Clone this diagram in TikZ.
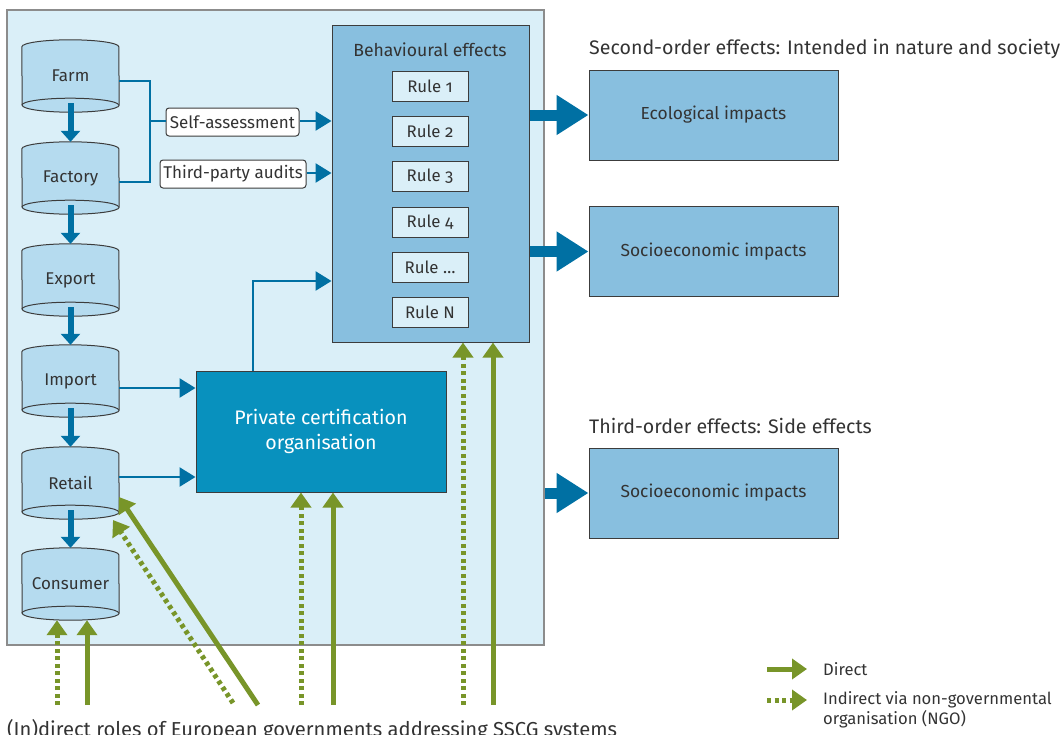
\documentclass[tikz,border=0pt]{standalone}
\usepackage{fontspec}
\setmainfont{Fira Sans}[Numbers=OldStyle]
\usetikzlibrary{arrows.meta}

\definecolor{panel}{HTML}{DAEFF8}
\definecolor{cylfill}{HTML}{B5DBEF}
\definecolor{midblue}{HTML}{88BFDF}
\definecolor{certblue}{HTML}{0891BE}
\definecolor{arrowblue}{HTML}{0070A3}
\definecolor{olive}{HTML}{789529}
\definecolor{ink}{HTML}{333333}
\definecolor{edge}{HTML}{3C3C3C}

\newcommand{\fs}[1]{\fontsize{#1}{#1}\selectfont}

% vertical supply-chain cylinder: open top arc, full bottom ellipse
\newcommand{\drawcyl}[1]{%
  \path[fill=cylfill,draw=edge,line width=1pt]
    ([yshift=-7pt]#1.north west) arc[start angle=180,end angle=0,x radius=48.5pt,y radius=7pt]
    -- ([yshift=7pt]#1.south east) arc[start angle=0,end angle=-180,x radius=48.5pt,y radius=7pt]
    -- cycle;
  \draw[edge,line width=1pt] ([yshift=7pt]#1.south west)
    arc[start angle=180,end angle=0,x radius=48.5pt,y radius=7pt];}

\tikzset{
  cyl/.style={minimum width=97pt,minimum height=72pt,inner sep=0pt,text=ink,font=\fs{17}},
  rulebox/.style={draw=edge,fill=panel,line width=1pt,minimum width=76pt,minimum height=30pt,inner sep=0pt,text=ink,font=\fs{16.8}},
  tagbox/.style={draw=edge,fill=white,rounded corners=3pt,line width=1pt,minimum height=28pt,inner sep=3pt,text=ink,font=\fs{17}},
  impact/.style={draw=edge,fill=midblue,line width=1pt,minimum width=249pt,minimum height=90pt,inner sep=0pt,text=ink,font=\fs{17.4}},
  downarrow/.style={arrowblue,line width=6pt,-{Triangle[length=11pt,width=19pt]}},
  flow/.style={arrowblue,line width=2.6pt,-{Triangle[length=16pt,width=19pt]}},
  flowline/.style={arrowblue,line width=2.6pt},
  bigarrow/.style={arrowblue,line width=11pt,-{Triangle[length=32pt,width=38pt]}},
  gov/.style={olive,line width=5pt,-{Triangle[length=15pt,width=20pt]}},
  govngo/.style={gov,dash pattern=on 4pt off 3.5pt},
}

\begin{document}
\begin{tikzpicture}[x=1pt,y=-1pt]
\useasboundingbox (0,0) rectangle (1062,734);

% system panel
\node[draw=gray!90,fill=panel,line width=1.5pt,minimum width=537pt,minimum height=635pt,inner sep=0pt] (panel) at (275.5,327.5) {};

% supply chain
\node[cyl] (farm) at (70.5,76) {};
\node[cyl] (factory) at (70.5,178) {};
\node[cyl] (export) at (70.5,280) {};
\node[cyl] (import) at (70.5,381) {};
\node[cyl] (retail) at (70.5,483) {};
\node[cyl] (consumer) at (70.5,584) {};
\foreach \n in {farm,factory,export,import,retail,consumer} {\drawcyl{\n}}
\node[cyl] at (farm) {Farm};
\node[cyl] at (factory) {Factory};
\node[cyl] at (export) {Export};
\node[cyl] at (import) {Import};
\node[cyl] at (retail) {Retail};
\node[cyl] at (consumer) {Consumer};

\draw[downarrow] ([yshift=9pt]farm.south) -- (factory.north);
\draw[downarrow] ([yshift=9pt]factory.south) -- (export.north);
\draw[downarrow] ([yshift=9pt]export.south) -- (import.north);
\draw[downarrow] ([yshift=9pt]import.south) -- (retail.north);
\draw[downarrow] ([yshift=9pt]retail.south) -- (consumer.north);

% behavioural effects
\node[draw=edge,fill=midblue,line width=1pt,minimum width=197pt,minimum height=317pt,inner sep=0pt] (beh) at (430.5,183.5) {};
\node[text=ink,font=\fs{17.6}] (behtitle) at (430,50) {Behavioural effects};
\node[rulebox] (r1) at (430,86) {Rule 1};
\node[rulebox] (r2) at (430,131) {Rule 2};
\node[rulebox] (r3) at (430,176) {Rule 3};
\node[rulebox] (r4) at (430,222) {Rule 4};
\node[rulebox] (r5) at (430,267) {Rule \dots};
\node[rulebox] (r6) at (430,312) {Rule N};

% monitoring
\node[tagbox,minimum width=133pt] (self) at (232.5,122) {Self-assessment};
\node[tagbox,minimum width=146pt] (third) at (233,174) {Third-party audits};
\coordinate (join) at (150,121);
\draw[flowline] ([yshift=-5pt]farm.east) -| (join) |- ([yshift=-4pt]factory.east);
\draw[flowline] (join) -- (self.west |- join);
\draw[flow] (self.east |- join) -- (beh.west |- join);
\draw[flow] (third.east |- 0,173) -- (beh.west |- 0,173);

% private certification
\node[draw=edge,fill=certblue,line width=1pt,minimum width=250pt,minimum height=121pt,inner sep=0pt,text=white,align=center,font=\fontsize{19.6}{25}\selectfont] (cert) at (321,431.5) {Private certification\\organisation};
\draw[flow] (import.east |- 0,388) -- (cert.west |- 0,388);
\draw[flow] (retail.east |- 0,477) -- (cert.west |- 0,477);
\draw[flow] (cert.north -| 253,0) |- (beh.west |- 0,281);

% effects
\node[anchor=west,inner sep=0pt,text=ink,font=\fs{19.6}] (second) at (589,49) {Second-order effects: Intended in nature and society};
\node[impact] (eco) at (713.5,115) {Ecological impacts};
\node[impact] (socio) at (713.5,251.5) {Socioeconomic impacts};
\node[anchor=west,inner sep=0pt,text=ink,font=\fs{19.6}] (thirdorder) at (589,426) {Third-order effects: Side effects};
\node[impact] (side) at (713.5,493) {Socioeconomic impacts};
\draw[bigarrow] (beh.east |- eco) -- (eco.west);
\draw[bigarrow] (beh.east |- socio) -- (socio.west);
\draw[bigarrow] (panel.east |- side) -- (side.west);

% government roles
\coordinate (g1) at (57,705);
\coordinate (g2) at (87,705);
\coordinate (g3) at (233,703);
\coordinate (g4) at (258,705);
\coordinate (g5) at (301,705);
\coordinate (g6) at (333,705);
\coordinate (g7) at (463,705);
\coordinate (g8) at (493,705);
\coordinate (rtip1) at (113,520);
\coordinate (rtip2) at (119,497);
\draw[govngo] (g1) -- (g1 |- consumer.south);
\draw[gov] (g2) -- (g2 |- consumer.south);
\draw[govngo] (g3) -- (rtip1);
\draw[gov] (g4) -- (rtip2);
\draw[govngo] (g5) -- (g5 |- cert.south);
\draw[gov] (g6) -- (g6 |- cert.south);
\draw[govngo] (g7) -- (g7 |- beh.south);
\draw[gov] (g8) -- (g8 |- beh.south);
\node[anchor=base west,inner sep=0pt,text=ink,font=\fs{20.2}] (caption) at (7,736) {(In)direct roles of European governments addressing SSCG systems};

% legend
\coordinate (la1) at (767,669);
\coordinate (lb1) at (807,669);
\coordinate (la2) at (767,700);
\coordinate (lb2) at (807,700);
\draw[gov] (la1) -- (lb1);
\draw[govngo] (la2) -- (lb2);
\node[anchor=west,inner sep=0pt,text=ink,font=\fs{16.6}] (ldirect) at (823,669) {Direct};
\node[anchor=west,inner sep=0pt,text=ink,align=left,font=\fontsize{16.6}{20}\selectfont] (lindirect) at (823,710) {Indirect via non-governmental\\organisation (NGO)};
\end{tikzpicture}
\end{document}
